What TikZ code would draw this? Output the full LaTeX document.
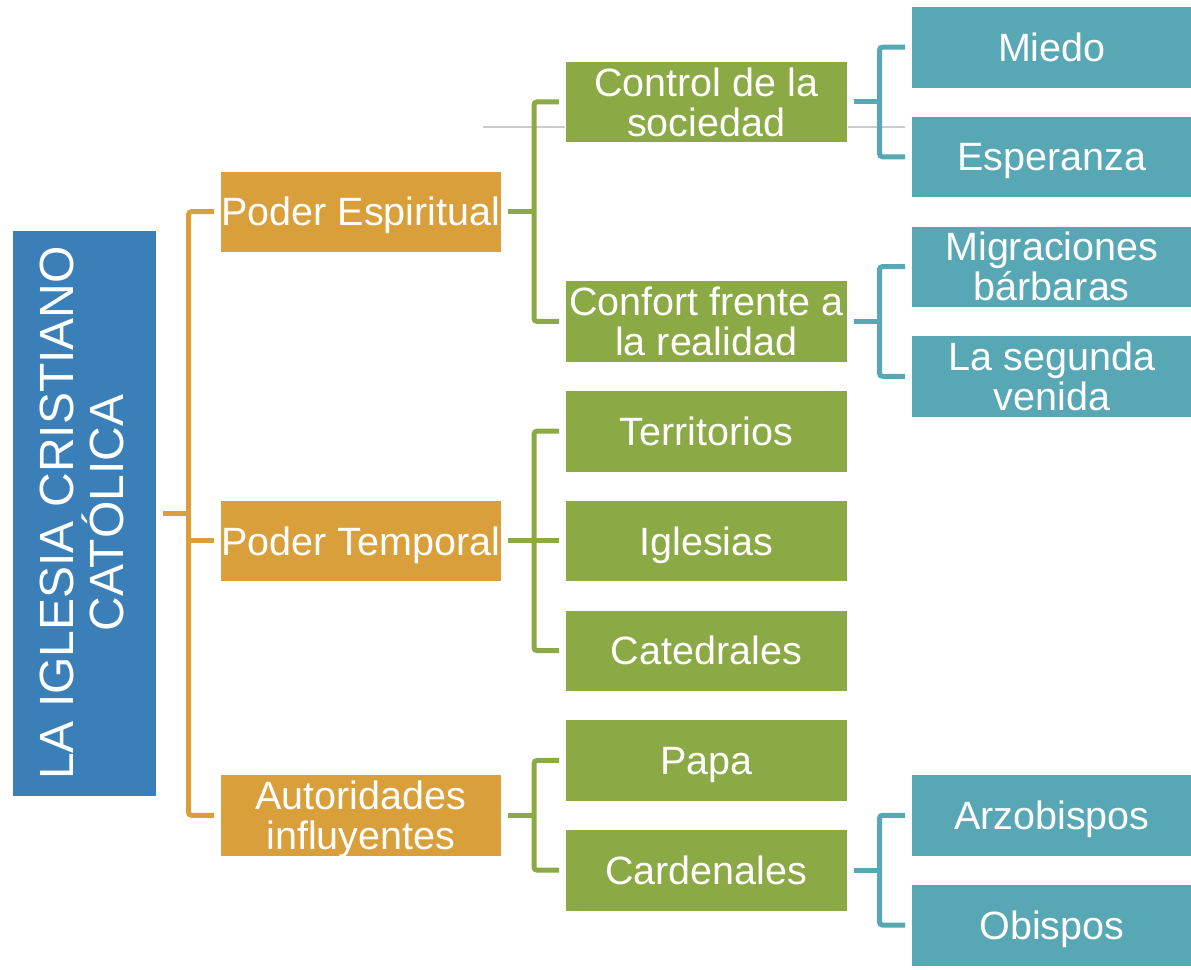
\documentclass[tikz,border=0pt]{standalone}
\usepackage{fontspec}
\setmainfont{Liberation Sans}
\definecolor{cblue}{HTML}{3B7FB9}
\definecolor{corange}{HTML}{D99F3A}
\definecolor{cgreen}{HTML}{8BA944}
\definecolor{cteal}{HTML}{58A7B4}
\definecolor{cgray}{HTML}{CCCCCC}
\begin{document}
\begin{tikzpicture}[x=1pt,y=-1pt,
  box/.style={rectangle, inner sep=0pt, anchor=north west, text=white, align=center,
    font=\fontsize{39.5}{40}\selectfont, text depth=0pt, draw=white, line width=0.6pt, minimum height=81.5pt},
  obox/.style={box, fill=corange, minimum width=281pt},
  gbox/.style={box, fill=cgreen, minimum width=282pt},
  tbox/.style={box, fill=cteal, minimum width=281pt},
  link/.style={line width=5pt, rounded corners=3pt},
  olink/.style={link, draw=corange},
  glink/.style={link, draw=cgreen},
  tlink/.style={link, draw=cteal},
  grayline/.style={draw=cgray, line width=1.8pt}
]
\useasboundingbox (0,0) rectangle (1191,969);
% stray gray line behind
\coordinate (g1) at (483,127);
\coordinate (g2) at (905,127);
\draw[grayline] (g1) -- (g2);

% root
\node[rectangle, draw=white, line width=0.6pt, fill=cblue, anchor=north west,
  minimum width=144pt, minimum height=566pt, inner sep=0pt] (root) at (12,230) {};
\node[rotate=90, text=white, align=center, inner sep=0pt,
  font=\fontsize{48}{50}\selectfont] (roottext) at (82,513) {LA IGLESIA CRISTIANO\\CAT\'OLICA};

% level 1
\node[obox] (pe) at (220,170.6) {Poder Espiritual};
\node[obox] (pt) at (220,499.9) {Poder Temporal};
\node[obox] (pa) at (220,774.25) {Autoridades\\influyentes};

% level 2
\node[gbox] (c1) at (565,60.9) {Control de la\\sociedad};
\node[gbox] (c2) at (565,280.4) {Confort frente a\\la realidad};
\node[gbox] (c3) at (565,390.1) {Territorios};
\node[gbox] (c4) at (565,499.9) {Iglesias};
\node[gbox] (c5) at (565,609.6) {Catedrales};
\node[gbox] (c6) at (565,719.4) {Papa};
\node[gbox] (c7) at (565,829.1) {Cardenales};

% level 3
\node[tbox] (d1) at (911,6) {Miedo};
\node[tbox] (d2) at (911,115.75) {Esperanza};
\node[tbox] (d3) at (911,225.5) {Migraciones\\b\'arbaras};
\node[tbox] (d4) at (911,335.25) {La segunda\\venida};
\node[tbox] (d5) at (911,774.25) {Arzobispos};
\node[tbox] (d6) at (911,884) {Obispos};

% bracket x positions
\coordinate (xa) at (188.5,0);
\coordinate (xb) at (534,0);
\coordinate (xc) at (879.5,0);

% root -> level 1
\draw[olink] ([xshift=6pt]root.east) -- (root.east -| xa);
\draw[olink] ([xshift=-6pt]pe.west) -- (pe.west -| xa) -- (pa.west -| xa) -- ([xshift=-6pt]pa.west);
\draw[olink] (pt.west -| xa) -- ([xshift=-6pt]pt.west);

% pe -> c1, c2
\draw[glink] ([xshift=6pt]pe.east) -- (pe.east -| xb);
\draw[glink] ([xshift=-6pt]c1.west) -- (c1.west -| xb) -- (c2.west -| xb) -- ([xshift=-6pt]c2.west);

% pt -> c3, c4, c5
\draw[glink] ([xshift=6pt]pt.east) -- (pt.east -| xb);
\draw[glink] ([xshift=-6pt]c3.west) -- (c3.west -| xb) -- (c5.west -| xb) -- ([xshift=-6pt]c5.west);
\draw[glink] (c4.west -| xb) -- ([xshift=-6pt]c4.west);

% pa -> c6, c7
\draw[glink] ([xshift=6pt]pa.east) -- (pa.east -| xb);
\draw[glink] ([xshift=-6pt]c6.west) -- (c6.west -| xb) -- (c7.west -| xb) -- ([xshift=-6pt]c7.west);

% c1 -> d1, d2
\draw[tlink] ([xshift=6pt]c1.east) -- (c1.east -| xc);
\draw[tlink] ([xshift=-6pt]d1.west) -- (d1.west -| xc) -- (d2.west -| xc) -- ([xshift=-6pt]d2.west);

% c2 -> d3, d4
\draw[tlink] ([xshift=6pt]c2.east) -- (c2.east -| xc);
\draw[tlink] ([xshift=-6pt]d3.west) -- (d3.west -| xc) -- (d4.west -| xc) -- ([xshift=-6pt]d4.west);

% c7 -> d5, d6
\draw[tlink] ([xshift=6pt]c7.east) -- (c7.east -| xc);
\draw[tlink] ([xshift=-6pt]d5.west) -- (d5.west -| xc) -- (d6.west -| xc) -- ([xshift=-6pt]d6.west);
\end{tikzpicture}
\end{document}
